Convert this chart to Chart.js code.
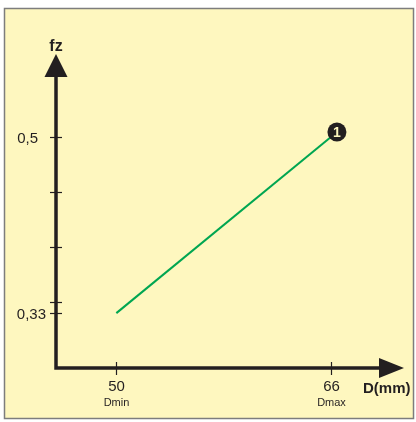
<!DOCTYPE html>
<html>
<head>
<meta charset="utf-8">
<script src="https://cdn.jsdelivr.net/npm/chart.js@4/dist/chart.umd.min.js"></script>
<style>
  html, body { margin: 0; padding: 0; background: #ffffff; }
  #wrap { position: relative; width: 416px; height: 422px; }
</style>
</head>
<body>
<div id="wrap"><canvas id="myChart" width="416" height="422"></canvas></div>
<script>
// data
const xValues = [50, 66];
const yValues = [0.33, 0.5];
const xTickValues = [50, 66];
const xTickLabels = ["50", "66"];
const xTickSubLabels = ["Dmin", "Dmax"];
const yTickValues = [0.5, 0.447, 0.394, 0.341, 0.33];
const yTickLabels = ["0,5", "", "", "", "0,33"];
const markerLabel = "1";

const ink = "#231f20";
const paper = "#fef7bf";
// gap between y axis and the right edge of each label
const yLabelGap = [18, 0, 0, 0, 10];

const drawing = {
	id: "drawing",
	beforeDraw(chart) {
		const ctx = chart.ctx;
		ctx.save();
		ctx.fillStyle = paper;
		ctx.fillRect(4, 8, 410, 411);
		ctx.strokeStyle = "#7d7d7d";
		ctx.lineWidth = 1.5;
		ctx.strokeRect(4.5, 8.5, 409, 410);
		ctx.restore();
	},
	afterDraw(chart) {
		const ctx = chart.ctx;
		const xs = chart.scales.x;
		const ys = chart.scales.y;
		const area = chart.chartArea;
		const ox = area.left, oy = area.bottom;
		ctx.save();
		ctx.strokeStyle = ink;
		ctx.fillStyle = ink;
		ctx.lineWidth = 3.5;
		// axes
		ctx.beginPath();
		ctx.moveTo(ox, area.top + 20);
		ctx.lineTo(ox, oy);
		ctx.lineTo(area.right - 22, oy);
		ctx.stroke();
		// y arrow
		ctx.beginPath();
		ctx.moveTo(ox, area.top - 1);
		ctx.lineTo(ox - 11.5, area.top + 22);
		ctx.lineTo(ox + 11.5, area.top + 22);
		ctx.closePath();
		ctx.fill();
		// x arrow
		ctx.beginPath();
		ctx.moveTo(area.right + 2, oy);
		ctx.lineTo(area.right - 23, oy - 10);
		ctx.lineTo(area.right - 23, oy + 10);
		ctx.closePath();
		ctx.fill();

		// ticks
		ctx.lineWidth = 1.2;
		ctx.font = "15px 'Liberation Sans', Arial, sans-serif";
		yTickValues.forEach((v, i) => {
			const y = Math.round(ys.getPixelForValue(v)) + 0.5;
			ctx.beginPath();
			ctx.moveTo(ox - 6, y);
			ctx.lineTo(ox + 6, y);
			ctx.stroke();
			if (yTickLabels[i]) {
				ctx.textAlign = "right";
				ctx.textBaseline = "middle";
				ctx.fillText(yTickLabels[i], ox - yLabelGap[i], y + 1);
			}
		});
		xTickValues.forEach((v, i) => {
			const x = Math.round(xs.getPixelForValue(v)) + 0.5;
			ctx.beginPath();
			ctx.moveTo(x, oy - 6);
			ctx.lineTo(x, oy + 7);
			ctx.stroke();
			ctx.textAlign = "center";
			ctx.textBaseline = "alphabetic";
			ctx.font = "15px 'Liberation Sans', Arial, sans-serif";
			ctx.fillText(xTickLabels[i], x, oy + 23);
			ctx.font = "11px 'Liberation Sans', Arial, sans-serif";
			ctx.fillText(xTickSubLabels[i], x, oy + 38);
		});

		// axis titles
		ctx.font = "bold 16px 'Liberation Sans', Arial, sans-serif";
		ctx.textAlign = "center";
		ctx.fillText("fz", ox, area.top - 4);
		ctx.font = "bold 15px 'Liberation Sans', Arial, sans-serif";
		ctx.textAlign = "left";
		ctx.fillText("D(mm)", area.right - 39, oy + 25);

		// marker at end of line
		const pts = chart.getDatasetMeta(0).data;
		const last = pts[pts.length - 1];
		const cx = last.x + 6, cy = last.y - 5;
		ctx.beginPath();
		ctx.arc(cx, cy, 9.5, 0, Math.PI * 2);
		ctx.fill();
		ctx.fillStyle = paper;
		ctx.font = "bold 14px 'Liberation Sans', Arial, sans-serif";
		ctx.textAlign = "center";
		ctx.textBaseline = "middle";
		ctx.fillText(markerLabel, cx, cy + 1);
		ctx.restore();
	}
};

const myChart = new Chart(document.getElementById("myChart"), {
	type: "line",
	data: {
		datasets: [
			{
				data: xValues.map((x, i) => ({ x: x, y: yValues[i] })),
				borderColor: "#00a651",
				borderWidth: 2,
				pointRadius: 0,
				fill: false,
			},
		],
	},
	options: {
		responsive: false,
		animation: false,
		layout: {
			padding: { left: 56, right: 14, top: 55, bottom: 54 }
		},
		scales: {
			x: { type: "linear", min: 45.5, max: 71.3, display: false },
			y: { type: "linear", min: 0.277, max: 0.5792, display: false },
		},
		plugins: {
			legend: { display: false },
			tooltip: { enabled: false }
		},
	},
	plugins: [drawing],
});
</script>
</body>
</html>
